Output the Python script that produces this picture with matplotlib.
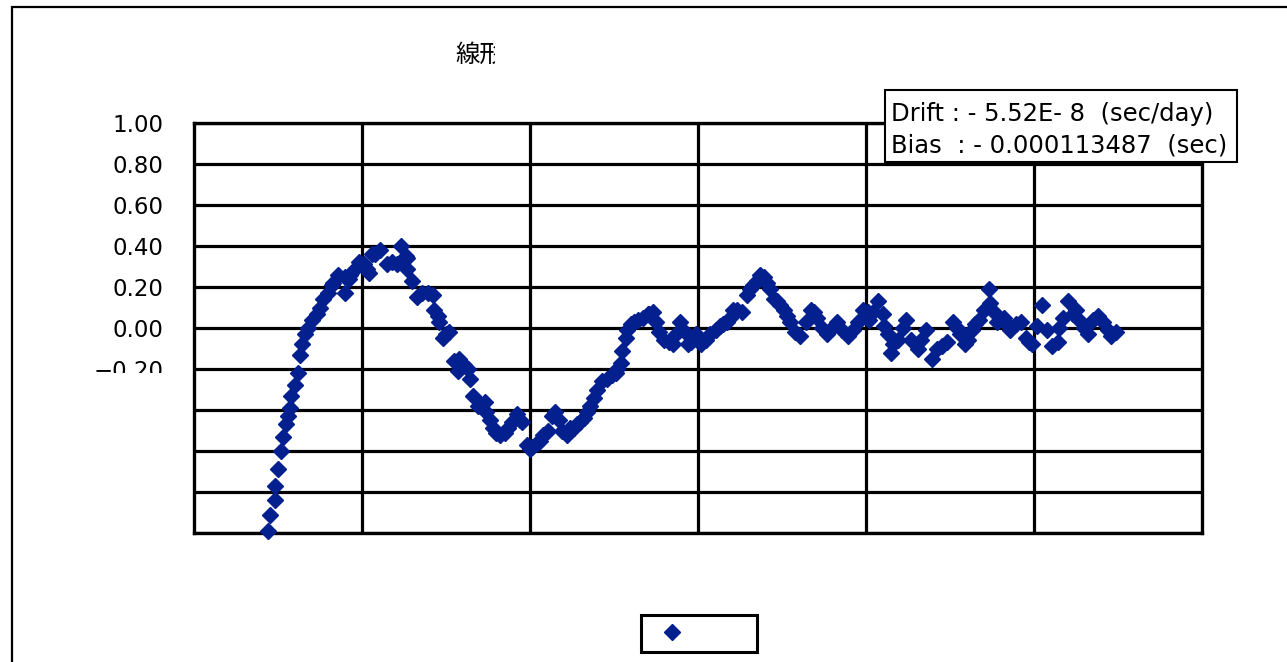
import matplotlib.pyplot as plt
from matplotlib.patches import Rectangle
from matplotlib.transforms import Bbox, TransformedBbox

plt.rcParams['font.family'] = ['DejaVu Sans']

# time offset residuals after removing drift/bias (x in grid units)
t = [0.44, 0.45, 0.48, 0.48, 0.50, 0.52, 0.53, 0.55, 0.56, 0.57, 0.58, 0.60,
     0.62, 0.63, 0.64, 0.66, 0.68, 0.70, 0.73, 0.75, 0.77, 0.80, 0.82, 0.86,
     0.90, 0.92, 0.96, 0.98, 1.01, 1.04, 1.08, 1.11, 1.15, 1.18, 1.23, 1.26,
     1.27, 1.30, 1.33, 1.36, 1.42, 1.43, 1.46, 1.48, 1.52, 1.55, 1.57, 1.61,
     1.64, 1.66, 1.69, 1.73, 1.74, 1.78, 1.82, 1.87, 1.92, 1.95, 1.98, 2.01,
     2.04, 2.08, 2.15, 2.17, 2.22, 2.24, 2.28, 2.32, 2.36, 2.40, 2.43, 2.51,
     2.54, 2.55, 2.57, 2.60, 2.64, 2.70, 2.73, 2.77, 2.80, 2.85, 2.89, 2.94,
     2.99, 3.02, 3.07, 3.13, 3.17, 3.21, 3.26, 3.29, 3.33, 3.37, 3.41, 3.45,
     3.49, 3.53, 3.58, 3.61, 3.67, 3.71, 3.77, 3.83, 3.89, 3.95, 3.98, 4.01,
     4.02, 4.07, 4.10, 4.11, 4.13, 4.15, 4.19, 4.24, 4.27, 4.31, 4.36, 4.39,
     4.42, 4.48, 4.52, 4.56, 4.59, 4.63, 4.67, 4.70, 4.73, 4.74, 4.78, 4.82,
     4.86, 4.92, 4.95, 4.99, 5.02, 5.05, 5.08, 5.11, 5.14, 5.17, 5.20, 5.23,
     5.27, 5.32, 5.38, 5.41, 5.46, 5.49,
     0.83, 0.90, 0.93, 1.03, 1.06, 1.21, 1.27, 1.39, 1.45, 1.50, 1.58, 1.63,
     1.70, 1.76, 1.80, 1.85, 1.89, 1.94, 2.00, 2.06, 2.11, 2.13, 2.19, 2.26,
     2.30, 2.34, 2.38, 2.46, 2.49, 2.52, 2.58, 2.62, 2.67, 2.71, 2.75, 2.83,
     2.87, 2.92, 2.96, 3.05, 3.11, 3.15, 3.19, 3.23, 3.31, 3.35, 3.39, 3.43,
     3.47, 3.51, 3.55, 3.64, 3.69, 3.74, 3.80, 3.86, 3.92, 4.04, 4.16, 4.22,
     4.33, 4.45, 4.54, 4.61, 4.65, 4.76, 4.84, 4.89, 4.97, 5.15, 5.25, 5.30,
     5.35, 5.44]
resid = [-0.99, -0.91, -0.84, -0.77, -0.69, -0.60, -0.53, -0.47, -0.43, -0.39, -0.33, -0.28,
         -0.22, -0.13, -0.08, -0.03, 0.00, 0.04, 0.07, 0.10, 0.14, 0.17, 0.21, 0.26,
         0.17, 0.24, 0.29, 0.32, 0.31, 0.27, 0.36, 0.38, 0.31, 0.32, 0.40, 0.35,
         0.29, 0.23, 0.15, 0.17, 0.16, 0.09, 0.03, -0.05, -0.02, -0.16, -0.21, -0.18,
         -0.25, -0.33, -0.38, -0.36, -0.41, -0.49, -0.52, -0.49, -0.42, -0.46, -0.57, -0.58,
         -0.56, -0.52, -0.41, -0.45, -0.52, -0.49, -0.47, -0.44, -0.38, -0.30, -0.26, -0.22,
         -0.17, -0.11, -0.05, 0.02, 0.04, 0.07, 0.08, -0.02, -0.06, -0.08, 0.03, -0.08,
         -0.03, -0.08, -0.03, 0.01, 0.03, 0.09, 0.08, 0.16, 0.21, 0.26, 0.22, 0.14,
         0.11, 0.06, -0.02, -0.04, 0.09, 0.05, -0.03, 0.03, -0.04, 0.03, 0.09, 0.08,
         0.04, 0.13, 0.07, 0.01, -0.03, -0.12, -0.06, 0.04, -0.06, -0.10, -0.01, -0.15,
         -0.10, -0.07, 0.03, -0.03, -0.08, -0.01, 0.04, 0.09, 0.19, 0.12, 0.03, 0.05,
         -0.01, 0.03, -0.05, -0.08, 0.01, 0.11, -0.01, -0.09, -0.07, 0.05, 0.13, 0.07,
         0.04, -0.03, 0.06, 0.03, -0.04, -0.02,
         0.22, 0.25, 0.26, 0.29, 0.36, 0.31, 0.34, 0.17, 0.06, -0.03, -0.15, -0.20,
         -0.37, -0.45, -0.51, -0.51, -0.46, -0.45, -0.59, -0.55, -0.50, -0.43, -0.50, -0.49,
         -0.46, -0.41, -0.34, -0.25, -0.23, -0.20, -0.01, 0.03, 0.05, 0.07, 0.03, -0.07,
         -0.03, -0.02, -0.07, -0.06, -0.01, 0.02, 0.05, 0.09, 0.19, 0.23, 0.25, 0.19,
         0.13, 0.09, 0.03, 0.03, 0.08, 0.00, 0.00, -0.01, -0.01, 0.08, -0.08, 0.00,
         -0.06, -0.09, 0.00, -0.06, 0.02, 0.08, 0.02, 0.02, -0.07, 0.00, 0.09, 0.00,
         0.04, -0.01]

yticks = [1.0, 0.8, 0.6, 0.4, 0.2, 0.0, -0.2, -0.4, -0.6, -0.8, -1.0]
ylabels = ['1.00', '0.80', '0.60', '0.40', '0.20', '0.00', '\u22120.20', '', '', '', '']
xgrid = [1, 2, 3, 4, 5]

drift_text = 'Drift : - 5.52E- 8  (sec/day)'
bias_text = 'Bias  : - 0.000113487  (sec)'

W, H = 1287, 662
blue = '#04208f'

fig = plt.figure(figsize=(W / 100, H / 100), dpi=100)
ax = fig.add_axes([194 / W, 1 - 533 / H, (1202 - 194) / W, (533 - 123) / H])

ax.plot(t, resid, 'D', ls='none', color=blue, mec=blue, ms=8.5, label=' ' * 5,
        clip_on=False, zorder=3)

ax.set_xlim(0, 6)
ax.set_ylim(-1, 1)
ax.set_xticks(xgrid)
ax.set_xticklabels([])
ax.set_yticks(yticks, ylabels)
ax.tick_params(length=0, labelsize=16.5, pad=22)
ax.grid(True, color='black', lw=2.3)
ax.set_axisbelow(True)
for s in ax.spines.values():
    s.set_linewidth(2.4)

# the lowest visible tick label is cut off by the slide
clip = TransformedBbox(Bbox.from_extents(0, 1 - 373 / H, 1, 1), fig.transFigure)
for lab in ax.get_yticklabels():
    lab.set_clip_box(clip)
    lab.set_clip_on(True)

# chart frame
fig.add_artist(Rectangle((12 / W, -0.5), 2, 1.5 - 7 / H, transform=fig.transFigure,
                         fill=False, ec='black', lw=1.6))

# partially hidden chart title
title = fig.text(455 / W, 1 - 55 / H, '線形近似', fontsize=17.5, va='center', ha='left',
                 family=['Noto Sans CJK JP', 'DejaVu Sans'])
title.set_clip_box(TransformedBbox(Bbox.from_extents(0, 0, 495 / W, 1), fig.transFigure))
title.set_clip_on(True)

# drift / bias annotation
fig.add_artist(Rectangle((885 / W, 1 - 162 / H), (1237 - 885) / W, (162 - 90) / H,
                         transform=fig.transFigure, fc='white', ec='black', lw=1.5,
                         zorder=4))
fig.text(891 / W, 1 - 114 / H, drift_text, fontsize=17.5, va='center', ha='left', zorder=5)
fig.text(891 / W, 1 - 146 / H, bias_text, fontsize=17.5, va='center', ha='left', zorder=5)

leg = fig.legend(loc='center', bbox_to_anchor=(699 / W, 1 - 633.5 / H), fontsize=16,
                 handlelength=2, handletextpad=0.8, borderpad=0.4, fancybox=False,
                 framealpha=1, edgecolor='black')
leg.get_frame().set_linewidth(2.2)

fig.savefig('out.png', dpi=100)
